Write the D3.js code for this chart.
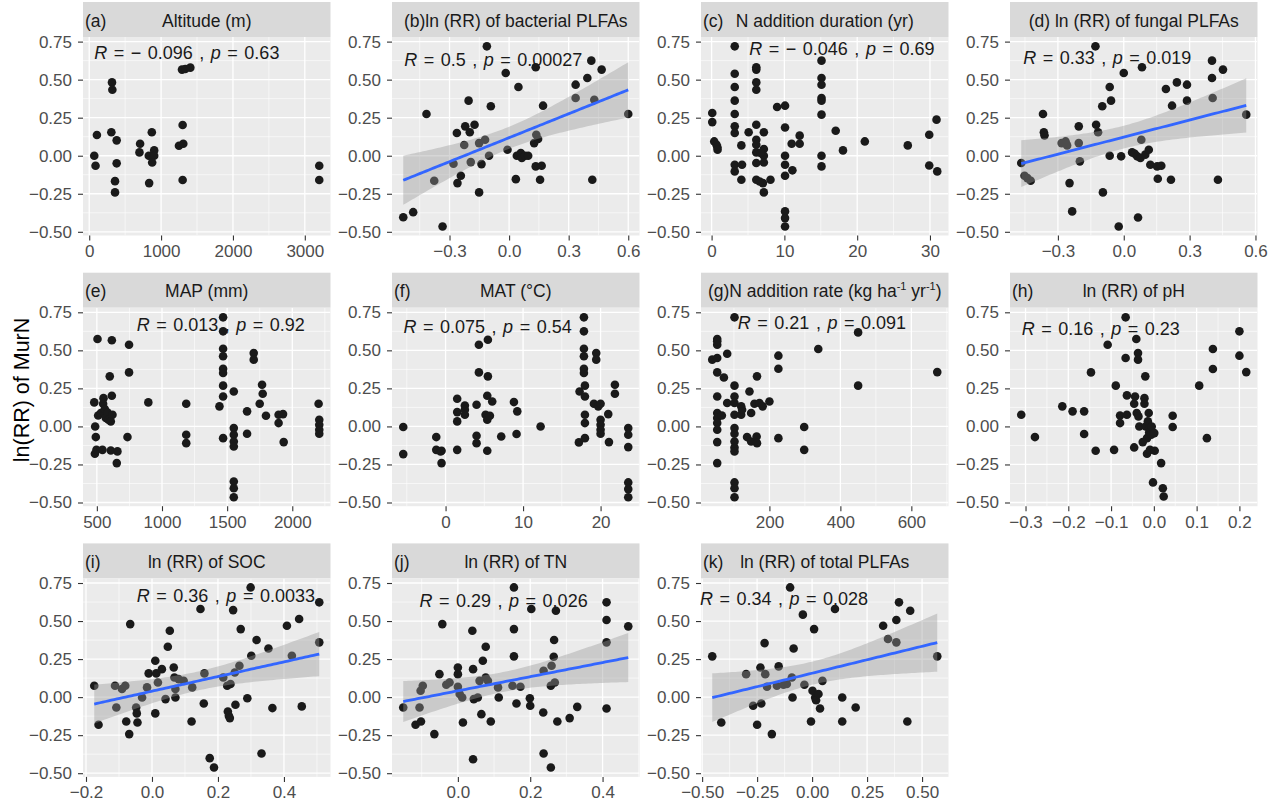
<!DOCTYPE html>
<html><head><meta charset="utf-8">
<script src="https://cdn.jsdelivr.net/npm/d3@7"></script>
<style>
body{margin:0;background:#fff}
text{font-family:"Liberation Sans",Arial,Helvetica,sans-serif}
</style>
</head><body>
<svg id="chart" width="1269" height="803"></svg>
<script>
// ---------- data: [x, ln(RR) of MurN] ----------
const altitude = [[70,0],[88,-0.066],[107,0.136],[317,0.482],[322,0.434],[308,0.154],[382,0.101],[382,-0.05],[359,-0.167],[359,-0.241],[708,0.079],[699,0.022],[829,0],[871,0.154],[904,0.035],[904,0],[876,-0.044],[834,-0.18],[1291,0.566],[1337,0.57],[1407,0.579],[1300,0.202],[1249,0.066],[1309,0.079],[1300,-0.16],[3201,-0.066],[3201,-0.16]];
const bacterial = [[-0.533,-0.404],[-0.483,-0.371],[-0.416,0.274],[-0.377,-0.164],[-0.335,-0.465],[-0.28,-0.053],[-0.263,0.149],[-0.26,-0.18],[-0.243,-0.132],[-0.226,0.07],[-0.221,0.193],[-0.204,0.362],[-0.198,0.154],[-0.193,-0.042],[-0.174,0.204],[-0.151,0.083],[-0.151,-0.241],[-0.139,-0.055],[-0.121,0.105],[-0.112,0.719],[-0.101,0],[-0.092,0.325],[-0.017,0.544],[-0.008,0.039],[0.034,-0.154],[0.047,0.452],[0.039,0],[0.059,0.018],[0.064,-0.015],[0.08,0],[0.096,0],[0.134,0.581],[0.137,0.138],[0.126,0.083],[0.146,0.11],[0.134,-0.07],[0.156,-0.158],[0.164,-0.066],[0.171,0.329],[0.335,0.379],[0.335,0.467],[0.394,0.511],[0.414,0.625],[0.466,0.566],[0.429,0.368],[0.419,-0.158],[0.6,0.274]];
const duration = [[0.09,0.281],[0.09,0.221],[0.36,0.094],[0.68,0.072],[0.8,0.055],[0.82,0.039],[3.18,0.719],[3.18,0.539],[3.18,0.452],[3.18,0.362],[3.18,0.274],[3.18,0.193],[3.18,0.149],[3.18,-0.059],[3.18,-0.103],[4.09,0.068],[4.18,-0.059],[4.09,-0.158],[5.09,0.154],[6.14,0.581],[6.14,0.566],[6.14,0.482],[6.14,0.434],[6.14,0.204],[6.14,0.105],[6.14,0.072],[6.14,0.022],[6.14,-0.048],[6.14,-0.158],[7.18,0.154],[7.18,0.044],[7.18,0],[7.18,-0.044],[7.18,-0.241],[7.05,-0.18],[6.73,0.018],[6.6,-0.169],[8.09,-0.158],[9.0,0.32],[10.09,0.329],[10.09,0.186],[10.09,0],[10.09,-0.059],[10.09,-0.132],[10.09,-0.366],[10.09,-0.41],[10.09,-0.465],[11,0.079],[11.1,-0.096],[12.1,0.132],[12.1,0.079],[15.1,0.625],[15.1,0.511],[15.1,0.467],[15.1,0.379],[15.1,0.362],[15.1,0.27],[15.1,0],[15.1,-0.07],[17.05,0.164],[18.05,0.035],[21.05,0.094],[26.95,0.068],[29.9,0.138],[29.9,-0.064],[30.9,0.237],[31,-0.103]];
const fungal = [[-0.467,-0.048],[-0.452,-0.132],[-0.439,-0.147],[-0.424,-0.164],[-0.368,0.274],[-0.364,0.154],[-0.361,0.134],[-0.283,0.083],[-0.265,0.094],[-0.258,0.068],[-0.247,-0.18],[-0.235,-0.366],[-0.205,0.193],[-0.205,0.083],[-0.2,-0.037],[-0.129,0.719],[-0.126,0.204],[-0.117,0.154],[-0.098,0.325],[-0.095,-0.241],[-0.064,0.452],[-0.058,0.362],[-0.064,0],[-0.012,-0.004],[0,0.544],[-0.023,-0.465],[0.038,0.022],[0.05,0.013],[0.061,-0.004],[0.065,-0.406],[0.08,0.105],[0.083,0.581],[0.076,-0.015],[0.098,0.007],[0.114,0.039],[0.121,-0.059],[0.152,-0.07],[0.171,-0.066],[0.155,-0.151],[0.192,0.439],[0.22,0.329],[0.215,-0.158],[0.242,0.482],[0.288,0.467],[0.288,0.362],[0.402,0.625],[0.402,0.511],[0.405,0.379],[0.452,0.566],[0.429,-0.158],[0.558,0.27]];
const map = [[505,0.575],[480,0.158],[487,0],[492,-0.07],[485,-0.18],[497,-0.154],[510,0.072],[531,0.088],[543,-0.154],[548,0.149],[551,0.186],[556,0.088],[561,0.114],[569,0.055],[582,0.092],[589,0.044],[607,0.033],[615,0.566],[599,0.329],[615,0.202],[620,0.077],[607,-0.158],[658,-0.164],[653,-0.241],[735,-0.07],[747,0.537],[747,0.355],[895,0.158],[1186,0.149],[1186,-0.055],[1186,-0.11],[1441,0.132],[1469,0.717],[1469,0.625],[1469,0.511],[1469,0.461],[1469,0.379],[1469,0.351],[1469,0.268],[1469,0.197],[1469,-0.077],[1551,0.23],[1551,-0.011],[1551,-0.055],[1551,-0.099],[1551,-0.132],[1551,-0.362],[1551,-0.406],[1551,-0.465],[1653,0.099],[1653,-0.048],[1704,0.482],[1704,0.439],[1768,0.274],[1773,0.215],[1750,0.149],[1798,0.07],[1895,0.077],[1895,0.022],[1929,0.081],[1934,-0.103],[2202,0.149],[2207,0.044],[2207,0.011],[2207,-0.022],[2207,-0.048]];
const mat = [[-5.46,-0.004],[-5.46,-0.182],[-1.2,-0.07],[-1.2,-0.154],[-0.65,-0.164],[-0.52,-0.241],[-0.52,-0.16],[1.5,0.182],[1.5,0.094],[1.5,0.033],[1.5,-0.154],[2.49,0.138],[2.49,0.11],[2.49,0.077],[4.0,0.142],[4.0,-0.061],[4.0,-0.11],[4.3,0.537],[4.3,0.355],[5.46,0.57],[5.46,0.329],[5.38,0.202],[5.16,0.077],[5.38,0.044],[5.72,0.07],[5.38,-0.16],[6.02,0.164],[7.18,-0.066],[8.82,0.16],[9.25,0.099],[9.16,-0.05],[12.26,0],[17.2,-0.105],[17.29,0.23],[17.85,0.717],[17.85,0.625],[17.85,0.511],[17.85,0.461],[17.85,0.379],[17.85,0.351],[17.98,0.268],[17.98,0.197],[17.98,0.077],[17.98,0.022],[17.98,-0.077],[19.44,0.482],[19.44,0.439],[19.14,0.149],[19.7,0.132],[20,0.149],[20,0.044],[20,0.011],[20,-0.022],[20,-0.048],[20.99,0.081],[21.08,-0.103],[21.85,0.274],[21.85,0.215],[23.57,-0.011],[23.57,-0.055],[23.57,-0.136],[23.57,-0.368],[23.57,-0.412],[23.57,-0.465]];
const rate = [[101.6,0.717],[52.9,0.575],[52.9,0.537],[52.9,0.559],[38.9,0.439],[52.9,0.45],[81,0.478],[52.9,0.355],[71.7,0.322],[52.9,0.197],[52.9,0.088],[52.9,0.055],[52.9,0.022],[52.9,-0.022],[52.9,-0.103],[52.9,-0.241],[66,0.072],[81,0.154],[101.6,0.268],[101.6,0.197],[101.6,0.154],[101.6,0.077],[101.6,-0.011],[101.6,-0.048],[101.6,-0.099],[101.6,-0.138],[101.6,-0.164],[101.6,-0.368],[101.6,-0.406],[101.6,-0.465],[120.4,0.132],[120.4,0.077],[123,0.11],[137,-0.07],[143.8,0.23],[148.5,0.088],[148.5,-0.099],[157.8,0.149],[164,-0.066],[165,0.329],[165,-0.11],[171.9,0.154],[181,0.132],[200,0.164],[225.3,0.465],[225.3,0.379],[225.3,-0.077],[298,-0.004],[298,-0.154],[337.7,0.509],[450,0.618],[450,0.268],[673,0.357]];
const ph = [[-0.31,0.077],[-0.278,-0.07],[-0.214,0.132],[-0.19,0.099],[-0.163,0.099],[-0.163,-0.05],[-0.147,0.355],[-0.136,-0.16],[-0.108,0.537],[-0.093,-0.154],[-0.089,0.268],[-0.079,0.022],[-0.079,0.072],[-0.066,0.717],[-0.066,0.45],[-0.063,0.204],[-0.063,0.077],[-0.046,-0.138],[-0.046,0.149],[-0.044,0.197],[-0.041,0.575],[-0.037,0.482],[-0.037,0.439],[-0.04,0.088],[-0.036,0.066],[-0.034,0],[-0.026,-0.103],[-0.022,0.186],[-0.022,0.149],[-0.02,0.329],[-0.019,0],[-0.016,-0.077],[-0.016,-0.18],[-0.014,0.033],[-0.012,0.088],[-0.011,-0.011],[-0.011,-0.04],[-0.009,-0.154],[-0.006,-0.055],[-0.005,0],[0.001,-0.044],[0.002,-0.16],[-0.002,-0.368],[0.017,-0.241],[0.021,-0.406],[0.023,-0.461],[0.044,0.07],[0.044,-0.004],[0.106,0.268],[0.124,-0.077],[0.138,0.509],[0.138,0.377],[0.2,0.625],[0.2,0.465],[0.216,0.357]];
const soc = [[-0.175,0.075],[-0.162,-0.182],[-0.112,0.075],[-0.108,-0.068],[-0.091,0.053],[-0.081,0.075],[-0.078,-0.16],[-0.066,0.48],[-0.069,-0.243],[-0.048,-0.068],[-0.046,-0.107],[-0.044,-0.167],[-0.03,-0.002],[-0.015,0.064],[-0.01,0.156],[0.01,0.239],[0.01,-0.107],[0.013,0.156],[0.018,0.096],[0.03,0.184],[0.041,-0.013],[0.048,0.331],[0.054,0.436],[0.066,0.195],[0.068,0.129],[0.071,0.053],[0.071,-0.002],[0.081,0.118],[0.096,0.107],[0.122,0.064],[0.12,-0.16],[0.147,0.579],[0.159,0.156],[0.157,-0.042],[0.175,-0.401],[0.188,-0.463],[0.216,0.129],[0.228,0.075],[0.23,-0.094],[0.233,-0.123],[0.236,-0.138],[0.238,0.086],[0.246,0.572],[0.251,0.162],[0.253,-0.05],[0.265,0.206],[0.269,0.447],[0.289,-0.007],[0.299,0.721],[0.301,0.272],[0.317,0.375],[0.332,-0.371],[0.353,0.32],[0.365,-0.072],[0.409,0.469],[0.424,0.272],[0.446,0.513],[0.454,-0.061],[0.507,0.623],[0.507,0.36]];
const tn = [[-0.151,-0.068],[-0.117,-0.182],[-0.106,-0.068],[-0.103,0.042],[-0.097,0.075],[-0.102,-0.16],[-0.065,-0.243],[-0.051,0.151],[-0.043,0.48],[-0.032,0.081],[-0.023,0.096],[0,0.195],[0,0.151],[0,0.068],[0.005,0.02],[0.012,-0.002],[0.014,-0.167],[0.04,0.436],[0.042,-0.408],[0.042,0.184],[0.044,-0.013],[0.055,-0.002],[0.06,0.107],[0.065,-0.112],[0.069,0.239],[0.077,0.331],[0.077,0.129],[0.083,0.107],[0.091,-0.16],[0.111,0.064],[0.113,-0.002],[0.155,0.721],[0.155,0.447],[0.155,0.268],[0.151,0.075],[0.162,-0.042],[0.173,0.068],[0.199,-0.007],[0.2,-0.057],[0.203,0.579],[0.236,-0.101],[0.237,0.173],[0.237,-0.371],[0.257,-0.463],[0.257,0.075],[0.259,0.206],[0.265,0.265],[0.266,0.375],[0.268,0.096],[0.271,0.568],[0.275,-0.16],[0.309,-0.138],[0.33,-0.064],[0.411,0.623],[0.411,0.507],[0.411,0.36],[0.411,-0.075],[0.471,0.465]];
const totalPLFA = [[-0.454,0.268],[-0.413,-0.167],[-0.3,0.151],[-0.268,-0.057],[-0.25,-0.182],[-0.235,0.195],[-0.231,-0.042],[-0.216,0.355],[-0.213,0.151],[-0.205,0.068],[-0.183,-0.243],[-0.16,0.075],[-0.152,0.202],[-0.13,0.081],[-0.115,0.086],[-0.1,0.721],[-0.092,0.129],[-0.089,-0.002],[-0.084,0.32],[-0.042,0.542],[-0.035,0.081],[-0.005,-0.16],[0.002,0.042],[0.009,0.447],[0.014,-0.002],[0.018,-0.02],[0.029,0.02],[0.036,-0.075],[0.047,0.107],[0.104,0.579],[0.137,-0.002],[0.137,-0.16],[0.198,-0.068],[0.323,0.469],[0.345,0.382],[0.383,0.36],[0.383,0.507],[0.395,0.623],[0.446,0.568],[0.433,-0.16],[0.569,0.268]];

// ---------- labels ----------
const tags   = ["(a)","","(c)","","(e)","(f)","","(h)","(i)","(j)","(k)"];
const titles = ["Altitude (m)","(b)ln (RR) of bacterial PLFAs","N addition duration (yr)","(d) ln (RR) of fungal PLFAs",
                "MAP (mm)","MAT (°C)","(g)N addition rate (kg ha^-1^ yr^-1^)","ln (RR) of pH",
                "ln (RR) of SOC","ln (RR) of TN","ln (RR) of total PLFAs"];
const rValues = ["− 0.096","0.5","− 0.046","0.33","0.013","0.075","0.21","0.16","0.36","0.29","0.34"];
const pValues = ["0.63","0.00027","0.69","0.019","0.92","0.54","0.091","0.23","0.0033","0.026","0.028"];
const labelAnchors = [[70,0.678],[-0.528,0.632],[5.18,0.704],[-0.458,0.645],[806,0.671],[-5.42,0.658],[111,0.686],[-0.309,0.645],[-0.046,0.666],[-0.106,0.638],[-0.51,0.645]];
const xTicks = [[0,1000,2000,3000],[-0.3,0,0.3,0.6],[0,10,20,30],[-0.3,0,0.3,0.6],
                [500,1000,1500,2000],[0,10,20],[200,400,600],[-0.3,-0.2,-0.1,0,0.1,0.2],
                [-0.2,0,0.2,0.4],[0,0.2,0.4],[-0.5,-0.25,0,0.25,0.5]];
const xFormats = ["d",".1f","d",".1f","d","d","d",".1f",".1f",".1f",".2f"];
const yTicks = [-0.5,-0.25,0,0.25,0.5,0.75];
const hasFit = [false,true,false,true,false,false,false,false,true,true,true];
const datasets = [altitude,bacterial,duration,fungal,map,mat,rate,ph,soc,tn,totalPLFA];
const yTitle = "ln(RR) of MurN";

// ---------- layout ----------
const svg = d3.select("#chart");
const W = 247.5, H = 198.5, stripH = 35;
const colX = [83, 392, 701, 1010];
const rowY = [37, 307.7, 578.4];

const allY = datasets.flat().map(d => d[1]);
const yExt = d3.extent(allY), yPad = (yExt[1]-yExt[0])*0.05;
const yDomain = [yExt[0]-yPad, yExt[1]+yPad];

function minorBreaks(major, dom){
  const step = major[1]-major[0];
  const ext = [major[0]-step, ...major, major[major.length-1]+step];
  const out = [];
  for(let i=0;i<ext.length-1;i++){ const m=(ext[i]+ext[i+1])/2; if(m>=dom[0]&&m<=dom[1]) out.push(m); }
  return out;
}
function tq(df){ const z=1.959964; return z + (z**3+z)/(4*df) + (5*z**5+16*z**3+3*z)/(96*df*df); }
function lmFit(data){
  const n=data.length, mx=d3.mean(data,d=>d[0]), my=d3.mean(data,d=>d[1]);
  let sxx=0,sxy=0; data.forEach(d=>{sxx+=(d[0]-mx)**2; sxy+=(d[0]-mx)*(d[1]-my);});
  const b=sxy/sxx, a=my-b*mx;
  let sse=0; data.forEach(d=>{sse+=(d[1]-a-b*d[0])**2;});
  const s=Math.sqrt(sse/(n-2)), t=tq(n-2);
  const ext=d3.extent(data,d=>d[0]);
  return d3.range(80).map(k=>{const x=ext[0]+(ext[1]-ext[0])*k/79, yh=a+b*x, se=s*Math.sqrt(1/n+(x-mx)**2/sxx);
    return {x, y:yh, lo:yh-t*se, hi:yh+t*se};});
}

datasets.forEach((data,i)=>{
  const c=i%4, r=Math.floor(i/4);
  const g = svg.append("g").attr("transform",`translate(${colX[c]},${rowY[r]})`);
  const xe = d3.extent(data,d=>d[0]), xp=(xe[1]-xe[0])*0.05;
  const xs = d3.scaleLinear().domain([xe[0]-xp, xe[1]+xp]).range([0,W]);
  const ys = d3.scaleLinear().domain(yDomain).range([H,0]);

  // strip
  g.append("rect").attr("x",0).attr("y",-stripH).attr("width",W).attr("height",stripH).attr("fill","#D9D9D9");
  const st = g.append("text").attr("y",-stripH/2+7).attr("font-size",17.5).attr("fill","#1A1A1A");
  if(tags[i]){
    g.append("text").attr("x",2).attr("y",-stripH/2+7).attr("font-size",17.5).attr("fill","#1A1A1A").text(tags[i]);
  }
  st.attr("x",W/2).attr("text-anchor","middle");
  titles[i].split("^").forEach((part,k)=>{
    if(k%2===1) st.append("tspan").attr("font-size",11).attr("dy",-7).text(part);
    else { const ts=st.append("tspan").text(part); if(k>0) ts.attr("dy",7); }
  });

  // panel
  g.append("rect").attr("width",W).attr("height",H).attr("fill","#EBEBEB");
  const clipId="clip"+i;
  g.append("clipPath").attr("id",clipId).append("rect").attr("width",W).attr("height",H);
  const pg = g.append("g").attr("clip-path",`url(#${clipId})`);
  const xMinor = minorBreaks(xTicks[i], xs.domain());
  const yMinor = minorBreaks(yTicks, yDomain);
  pg.selectAll(".ymn").data(yMinor).join("line").attr("x1",0).attr("x2",W).attr("y1",ys).attr("y2",ys).attr("stroke","#fff").attr("stroke-width",0.6);
  pg.selectAll(".xmn").data(xMinor).join("line").attr("y1",0).attr("y2",H).attr("x1",xs).attr("x2",xs).attr("stroke","#fff").attr("stroke-width",0.6);
  pg.selectAll(".ymj").data(yTicks).join("line").attr("x1",0).attr("x2",W).attr("y1",ys).attr("y2",ys).attr("stroke","#fff").attr("stroke-width",1.3);
  pg.selectAll(".xmj").data(xTicks[i]).join("line").attr("y1",0).attr("y2",H).attr("x1",xs).attr("x2",xs).attr("stroke","#fff").attr("stroke-width",1.3);

  // points
  pg.selectAll("circle").data(data).join("circle").attr("cx",d=>xs(d[0])).attr("cy",d=>ys(d[1])).attr("r",4.3).attr("fill","#1A1A1A");

  // fit
  if(hasFit[i]){
    const f = lmFit(data);
    pg.append("path").datum(f).attr("d",d3.area().x(d=>xs(d.x)).y0(d=>ys(d.lo)).y1(d=>ys(d.hi))).attr("fill","#999999").attr("fill-opacity",0.4);
    pg.append("path").datum(f).attr("d",d3.line().x(d=>xs(d.x)).y(d=>ys(d.y))).attr("fill","none").attr("stroke","#3366FF").attr("stroke-width",2.8);
  }

  // annotation
  const la = labelAnchors[i];
  const at = g.append("text").attr("x",xs(la[0])).attr("y",ys(la[1])).attr("dy","0.36em").attr("font-size",18).attr("fill","#1A1A1A").attr("style","white-space:pre").attr("word-spacing","1.5px");
  at.append("tspan").attr("font-style","italic").text("R");
  at.append("tspan").text(" = "+rValues[i]+" , ");
  at.append("tspan").attr("font-style","italic").text("p");
  at.append("tspan").text(" = "+pValues[i]);

  // axes
  const ya = g.append("g").call(d3.axisLeft(ys).tickValues(yTicks).tickFormat(d3.format(".2f")).tickSize(5).tickSizeOuter(0).tickPadding(6));
  const xa = g.append("g").attr("transform",`translate(0,${H})`).call(d3.axisBottom(xs).tickValues(xTicks[i]).tickFormat(d3.format(xFormats[i])).tickSize(5).tickSizeOuter(0).tickPadding(4.5));
  [ya,xa].forEach(a=>{
    a.select(".domain").remove();
    a.selectAll(".tick line").attr("stroke","#333333").attr("stroke-width",1.1);
    a.selectAll(".tick text").attr("font-size",17).attr("fill","#4D4D4D").attr("font-family","'Liberation Sans',Arial,sans-serif");
  });
});

svg.append("text").attr("transform","translate(21,390) rotate(-90)").attr("text-anchor","middle").attr("dy","0.35em")
  .attr("font-size",21.5).attr("fill","#000").text(yTitle);
</script>
</body></html>
